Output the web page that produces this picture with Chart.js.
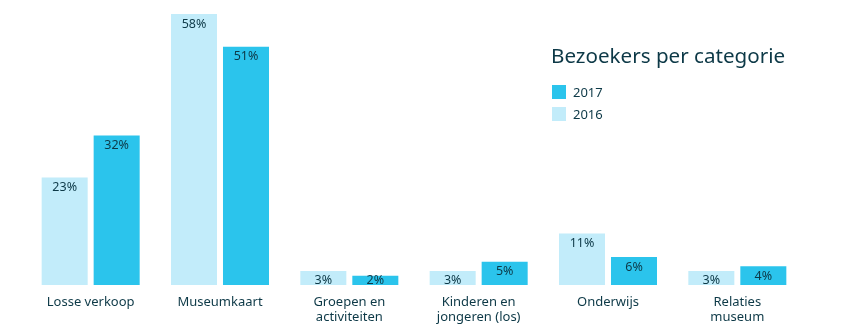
<!DOCTYPE html>
<html>
<head>
<meta charset="utf-8">
<script src="https://cdn.jsdelivr.net/npm/chart.js@4"></script>
<style>
  body { margin: 0; background: #fff; }
  #wrap { position: relative; width: 847px; height: 333px; }
  #title { position: absolute; left: 551px; top: 41px; font: 20.6px "Noto Sans", sans-serif; color: #0d3947; }
  #legend { position: absolute; left: 552px; top: 81px; font: 13px "Noto Sans", sans-serif; color: #0d3947; }
  .item { height: 22px; display: flex; align-items: center; }
  .box { width: 14px; height: 14px; margin-right: 7px; }
</style>
</head>
<body>
<div id="wrap">
  <canvas id="myChart" width="847" height="333"></canvas>
  <div id="title">Bezoekers per categorie</div>
  <div id="legend"></div>
</div>
<script>
var categories = [
  "Losse verkoop",
  "Museumkaart",
  ["Groepen en", "activiteiten"],
  ["Kinderen en", "jongeren (los)"],
  "Onderwijs",
  ["Relaties", "museum"]
];
var values2016 = [23, 58, 3, 3, 11, 3];
var values2017 = [32, 51, 2, 5, 6, 4];
var color2016 = "#c2ecfa";
var color2017 = "#2bc4ec";
var textColor = "#0d3947";

// legend, 2017 first like the original
var legend = document.getElementById("legend");
[["2017", color2017], ["2016", color2016]].forEach(function(it){
    legend.innerHTML += '<div class="item"><div class="box" style="background:' + it[1] + '"></div>' + it[0] + '</div>';
});

var valueLabels = {
    id: "valueLabels",
    afterDatasetsDraw: function(chart){
        var ctx = chart.ctx;
        var base = chart.chartArea.bottom;
        ctx.save();
        ctx.font = "12.5px 'Noto Sans', sans-serif";
        ctx.fillStyle = textColor;
        ctx.textAlign = "center";
        ctx.textBaseline = "middle";
        chart.data.datasets.forEach(function(ds, i){
            chart.getDatasetMeta(i).data.forEach(function(bar, j){
                ctx.fillText(ds.data[j] + "%", bar.x, Math.min(bar.y + 10, base - 5));
            });
        });
        ctx.restore();
    }
};

var ctx = document.getElementById("myChart").getContext("2d");
var myChart = new Chart(ctx, {
    type: "bar",
    data: {
        labels: categories,
        datasets: [
            { label: "2016", data: values2016, backgroundColor: color2016, borderWidth: 0 },
            { label: "2017", data: values2017, backgroundColor: color2017, borderWidth: 0 }
        ]
    },
    options: {
        responsive: false,
        animation: false,
        layout: { padding: { left: 26, right: 45, top: 14, bottom: 0 } },
        datasets: { bar: { categoryPercentage: 0.804, barPercentage: 0.885 } },
        plugins: { legend: { display: false }, tooltip: { enabled: false } },
        scales: {
            x: {
                grid: { display: false, drawTicks: false },
                border: { display: false },
                afterFit: function(s){ s.height = 48; },
                ticks: { color: textColor, padding: 9, maxRotation: 0, font: { family: "Noto Sans", size: 13, lineHeight: 1.2 } }
            },
            y: { display: false, min: 0, max: 58 }
        }
    },
    plugins: [valueLabels]
});
</script>
</body>
</html>
